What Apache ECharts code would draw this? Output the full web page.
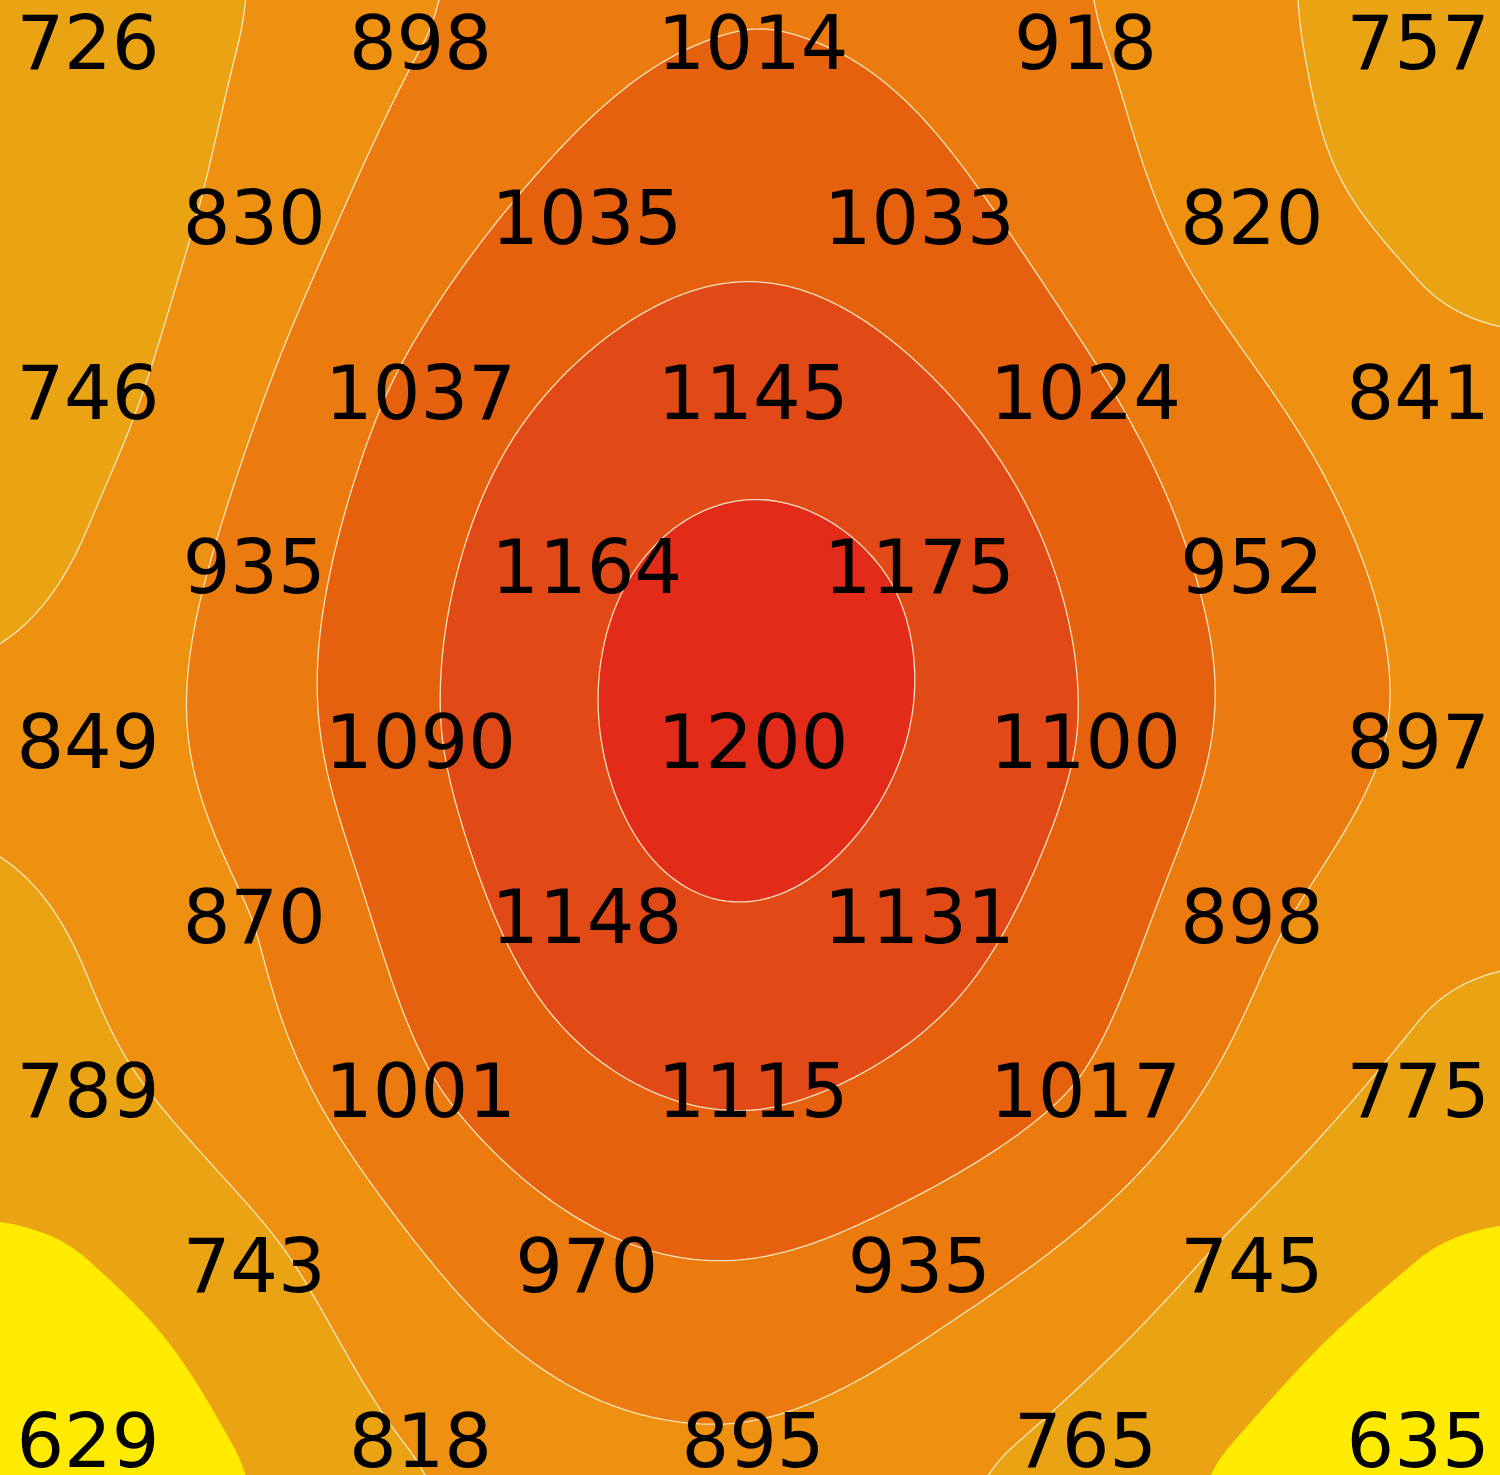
<!DOCTYPE html>
<html><head><meta charset="utf-8">
<script src="https://cdn.jsdelivr.net/npm/echarts@6/dist/echarts.min.js"></script>
<style>html,body{margin:0;padding:0;background:#FFEB00}#c{width:1500px;height:1475px}</style>
</head><body><div id="c"></div>
<script>
// Values, staggered grid (even rows: 5 values, odd rows: 4 values)
const row0 = [726, 898, 1014, 918, 757];
const row1 = [830, 1035, 1033, 820];
const row2 = [746, 1037, 1145, 1024, 841];
const row3 = [935, 1164, 1175, 952];
const row4 = [849, 1090, 1200, 1100, 897];
const row5 = [870, 1148, 1131, 898];
const row6 = [789, 1001, 1115, 1017, 775];
const row7 = [743, 970, 935, 745];
const row8 = [629, 818, 895, 765, 635];
const rows = [row0, row1, row2, row3, row4, row5, row6, row7, row8];

// Contour levels and band colours
const levels = [700, 800, 900, 1000, 1095, 1177];
const bandColors = ['#E9A313', '#EE9010', '#EB7A0F', '#E6610E', '#E14A17', '#E22C19'];
const baseColor = '#FFEB00';
const lineLevels = [800, 900, 1000, 1095, 1177];

// points: [col, row, value]
const pts = [];
rows.forEach((row, r) => row.forEach((v, k) => pts.push([(r % 2) + 2 * k, r, v])));

// ---- smoothing thin plate spline surface (for contouring) ----
const KY = 174.6 / 166.25;
const LAMBDA = 1.5;
const EXT = 0.3;
function U(d2) { return d2 === 0 ? 0 : 0.5 * d2 * Math.log(d2); }
const n = pts.length, N = n + 3;
const A = [], B = [];
for (let i = 0; i < n; i++) {
  const row = new Array(N).fill(0);
  for (let j = 0; j < n; j++) {
    const dx = pts[i][0] - pts[j][0], dy = (pts[i][1] - pts[j][1]) * KY;
    row[j] = U(dx * dx + dy * dy) + (i === j ? LAMBDA : 0);
  }
  row[n] = 1; row[n + 1] = pts[i][0]; row[n + 2] = pts[i][1] * KY;
  A.push(row); B.push(pts[i][2]);
}
for (let k = 0; k < 3; k++) {
  const row = new Array(N).fill(0);
  for (let j = 0; j < n; j++) row[j] = k === 0 ? 1 : (k === 1 ? pts[j][0] : pts[j][1] * KY);
  A.push(row); B.push(0);
}
function solve(A, b) {
  const m = b.length;
  for (let c = 0; c < m; c++) {
    let p = c;
    for (let r = c + 1; r < m; r++) if (Math.abs(A[r][c]) > Math.abs(A[p][c])) p = r;
    [A[c], A[p]] = [A[p], A[c]]; [b[c], b[p]] = [b[p], b[c]];
    for (let r = c + 1; r < m; r++) {
      const f = A[r][c] / A[c][c];
      if (f === 0) continue;
      for (let k = c; k < m; k++) A[r][k] -= f * A[c][k];
      b[r] -= f * b[c];
    }
  }
  const x = new Array(m).fill(0);
  for (let r = m - 1; r >= 0; r--) {
    let s = b[r];
    for (let k = r + 1; k < m; k++) s -= A[r][k] * x[k];
    x[r] = s / A[r][r];
  }
  return x;
}
const W = solve(A, B);
// smooth damping of extrapolation beyond the outer ring of values
function damp(v) {
  if (v < 0) return -EXT * (1 - Math.exp(v / EXT));
  if (v > 8) return 8 + EXT * (1 - Math.exp(-(v - 8) / EXT));
  return v;
}
function field(x, y) {
  x = damp(x); y = damp(y);
  let s = W[n] + W[n + 1] * x + W[n + 2] * y * KY;
  for (let j = 0; j < n; j++) {
    const dx = x - pts[j][0], dy = (y - pts[j][1]) * KY;
    s += W[j] * U(dx * dx + dy * dy);
  }
  return s;
}

const XMIN = -0.529, XMAX = 8.493, YMIN = -0.263, YMAX = 8.183;
const GX0 = -0.6, GX1 = 8.6, GY0 = -0.35, GY1 = 8.3;
const NX = 230, NY = 230;
const gxs = [], gys = [];
for (let i = 0; i <= NX; i++) gxs.push(GX0 + (GX1 - GX0) * i / NX);
for (let j = 0; j <= NY; j++) gys.push(GY0 + (GY1 - GY0) * j / NY);
const F = gys.map(y => gxs.map(x => field(x, y)));

function f2(v) { return v.toFixed(2); }

function bandPath(t, PX, PY) {
  const s = [];
  const rect = (i0, i1, j) => s.push('M' + f2(PX[i0]) + ' ' + f2(PY[j]) + 'L' + f2(PX[i1]) + ' ' + f2(PY[j]) + 'L' + f2(PX[i1]) + ' ' + f2(PY[j + 1]) + 'L' + f2(PX[i0]) + ' ' + f2(PY[j + 1]) + 'Z');
  for (let j = 0; j < NY; j++) {
    let run = -1;
    for (let i = 0; i < NX; i++) {
      const v0 = F[j][i], v1 = F[j][i + 1], v2 = F[j + 1][i + 1], v3 = F[j + 1][i];
      const in0 = v0 >= t, in1 = v1 >= t, in2 = v2 >= t, in3 = v3 >= t;
      if (in0 && in1 && in2 && in3) { if (run < 0) run = i; continue; }
      if (run >= 0) { rect(run, i, j); run = -1; }
      if (!in0 && !in1 && !in2 && !in3) continue;
      const c = [[PX[i], PY[j], v0], [PX[i + 1], PY[j], v1], [PX[i + 1], PY[j + 1], v2], [PX[i], PY[j + 1], v3]];
      const poly = [];
      for (let k = 0; k < 4; k++) {
        const a = c[k], b = c[(k + 1) % 4];
        if (a[2] >= t) poly.push([a[0], a[1]]);
        if ((a[2] >= t) !== (b[2] >= t)) {
          const f = (t - a[2]) / (b[2] - a[2]);
          poly.push([a[0] + (b[0] - a[0]) * f, a[1] + (b[1] - a[1]) * f]);
        }
      }
      s.push('M' + poly.map(p => f2(p[0]) + ' ' + f2(p[1])).join('L') + 'Z');
    }
    if (run >= 0) rect(run, NX, j);
  }
  return s.join('');
}

function linePath(t, PX, PY) {
  const s = [];
  for (let j = 0; j < NY; j++) {
    for (let i = 0; i < NX; i++) {
      const c = [[PX[i], PY[j], F[j][i]], [PX[i + 1], PY[j], F[j][i + 1]], [PX[i + 1], PY[j + 1], F[j + 1][i + 1]], [PX[i], PY[j + 1], F[j + 1][i]]];
      const ins = c.map(p => p[2] >= t);
      const cnt = ins.filter(Boolean).length;
      if (cnt === 0 || cnt === 4) continue;
      const e = [];
      for (let k = 0; k < 4; k++) {
        const a = c[k], b = c[(k + 1) % 4];
        if (ins[k] !== ins[(k + 1) % 4]) {
          const f = (t - a[2]) / (b[2] - a[2]);
          e[k] = [a[0] + (b[0] - a[0]) * f, a[1] + (b[1] - a[1]) * f];
        }
      }
      const seg = (p, q) => s.push('M' + f2(p[0]) + ' ' + f2(p[1]) + 'L' + f2(q[0]) + ' ' + f2(q[1]));
      if (cnt === 2 && ins[0] === ins[2]) {
        for (let k = 0; k < 4; k++) if (!ins[k]) seg(e[(k + 3) % 4], e[k]);
      } else {
        const ks = [];
        for (let k = 0; k < 4; k++) if (e[k]) ks.push(k);
        seg(e[ks[0]], e[ks[1]]);
      }
    }
  }
  return s.join('');
}

function coordsArrays(api) {
  const PX = gxs.map(x => api.coord([x, 0])[0]);
  const PY = gys.map(y => api.coord([0, y])[1]);
  return [PX, PY];
}

const chart = echarts.init(document.getElementById('c'), null, { renderer: 'canvas' });
chart.setOption({
  animation: false,
  backgroundColor: baseColor,
  grid: { left: 0, right: 0, top: 0, bottom: 0 },
  xAxis: { type: 'value', min: XMIN, max: XMAX, show: false },
  yAxis: { type: 'value', min: YMIN, max: YMAX, inverse: true, show: false },
  series: [
    {
      type: 'custom', z: 1, clip: true, silent: true,
      data: levels.map((t, i) => [0, 0, i]),
      encode: { x: 0, y: 1 },
      renderItem: function (params, api) {
        const idx = params.dataIndex;
        const [PX, PY] = coordsArrays(api);
        return { type: 'path', shape: { pathData: bandPath(levels[idx], PX, PY) }, style: { fill: bandColors[idx] } };
      }
    },
    {
      type: 'custom', z: 2, clip: true, silent: true,
      data: lineLevels.map((t, i) => [0, 0, i]),
      encode: { x: 0, y: 1 },
      renderItem: function (params, api) {
        const idx = params.dataIndex;
        const [PX, PY] = coordsArrays(api);
        return { type: 'path', shape: { pathData: linePath(lineLevels[idx], PX, PY) }, style: { fill: null, stroke: 'rgba(255,240,205,0.9)', lineWidth: 1.3, lineCap: 'round' } };
      }
    },
    {
      type: 'scatter', z: 3, silent: true,
      symbolSize: 1,
      itemStyle: { color: 'rgba(0,0,0,0)', opacity: 1 },
      data: pts.map(p => [p[0], p[1], p[2]]),
      label: {
        show: true, position: 'inside', offset: [0, 4],
        formatter: p => String(p.value[2]),
        color: '#000', opacity: 1, fontSize: 75, fontFamily: 'DejaVu Sans'
      }
    }
  ]
});
</script>
</body></html>
